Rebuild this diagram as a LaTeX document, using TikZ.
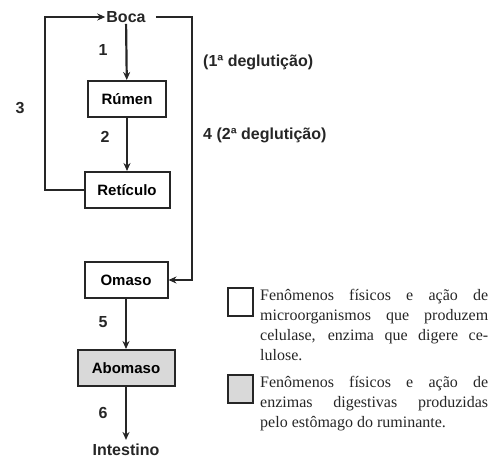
\documentclass[tikz,border=0pt]{standalone}
\usepackage{fontspec}
\setmainfont{Liberation Serif}
\setsansfont{Liberation Sans}
\usetikzlibrary{arrows.meta}
\definecolor{stomach}{gray}{0.85}
\definecolor{ink}{gray}{0.15}
\begin{document}
\begin{tikzpicture}[x=1pt,y=-1pt,
  organ/.style={draw=ink,line width=2pt,minimum height=36pt,inner sep=0pt,font=\sffamily\bfseries\fontsize{15}{18}\selectfont},
  lbl/.style={inner sep=1pt,font=\sffamily\bfseries\fontsize{16}{18}\selectfont,text=ink},
  flow/.style={draw=ink,line width=2.2pt,-{Stealth[length=8pt,width=7pt]}},
  key/.style={draw=ink,line width=2pt,minimum width=25pt,minimum height=28pt,inner sep=0pt},
  note/.style={anchor=north west,inner sep=0pt,text width=228pt,align=justify,text=ink,font=\fontsize{16}{20}\selectfont}]
\useasboundingbox (0,0) rectangle (491,461);

\node[lbl] (boca) at (126,17) {Boca};
\node[organ,minimum width=78pt] (rumen) at (127,99) {Rúmen};
\node[organ,minimum width=85pt] (reticulo) at (127,190) {Retículo};
\node[organ,minimum width=83pt] (omaso) at (126,280) {Omaso};
\node[organ,minimum width=97pt,fill=stomach] (abomaso) at (126,368) {Abomaso};
\node[lbl,inner sep=4pt] (intestino) at (126,450) {Intestino};

\coordinate (loopL) at (45,17);
\coordinate (loopR) at (192,17);

\draw[flow] (boca) -- (rumen);
\draw[flow] (rumen) -- (reticulo);
\draw[flow] (reticulo.west) -| (loopL) -- (boca.west);
\draw[flow] ([xshift=9pt]boca.east) -- (loopR) |- (omaso.east);
\draw[flow] (omaso) -- (abomaso);
\draw[flow] (abomaso) -- (intestino);

\node[lbl] (n1) at (103,50) {1};
\node[lbl] (n2) at (105,137) {2};
\node[lbl] (n3) at (20,108) {3};
\node[lbl] (n5) at (103,322) {5};
\node[lbl] (n6) at (103,413) {6};
\node[lbl,anchor=west] (deg1) at (202,62) {(1ª deglutição)};
\node[lbl,anchor=west] (deg2) at (202,135) {4 (2ª deglutição)};

% legenda
\node[key] (keyA) at (240,302) {};
\node[key,fill=stomach] (keyB) at (240,389) {};
\node[note] (noteA) at (260,289) {Fenômenos físicos e ação de\linebreak microorganismos que produzem\linebreak celulase, enzima que digere ce-\linebreak lulose.};
\node[note] (noteB) at (260,376) {Fenômenos físicos e ação de\linebreak enzimas digestivas produzidas\linebreak pelo estômago do ruminante.};
\end{tikzpicture}
\end{document}
